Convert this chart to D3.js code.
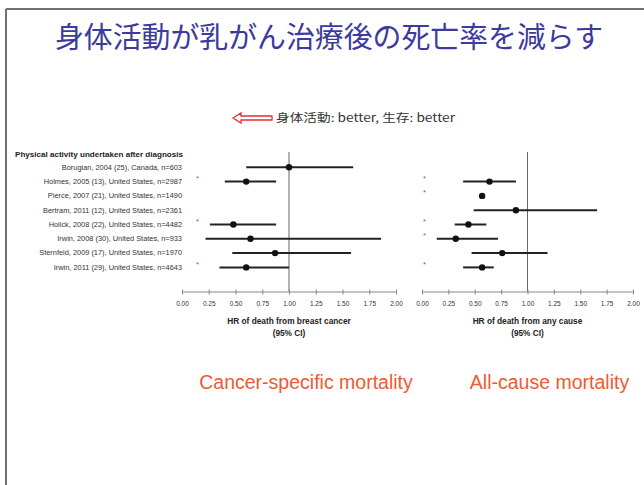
<!DOCTYPE html>
<html><head><meta charset="utf-8">
<script src="https://cdn.jsdelivr.net/npm/d3@7"></script>
<style>
html,body{margin:0;padding:0;background:#fff;}
svg{display:block;}
</style></head>
<body>
<svg id="c" width="644" height="485"></svg>
<script>
const studies = [
  "Borugian, 2004 (25), Canada, n=603",
  "Holmes, 2005 (13), United States, n=2987",
  "Pierce, 2007 (21), United States, n=1490",
  "Bertram, 2011 (12), United States, n=2361",
  "Holick, 2008 (22), United States, n=4482",
  "Irwin, 2008 (30), United States, n=933",
  "Sternfeld, 2009 (17), United States, n=1970",
  "Irwin, 2011 (29), United States, n=4643"
];
const csHR   = [1.00, 0.60, null, null, 0.48, 0.64, 0.87, 0.60];
const csLow  = [0.60, 0.40, null, null, 0.26, 0.22, 0.47, 0.35];
const csHigh = [1.60, 0.88, null, null, 0.88, 1.86, 1.58, 1.00];
const csSig  = [false, true, false, false, true, false, false, true];
const acHR   = [null, 0.64, 0.57, 0.89, 0.44, 0.32, 0.76, 0.57];
const acLow  = [null, 0.39, 0.55, 0.49, 0.31, 0.14, 0.47, 0.39];
const acHigh = [null, 0.89, 0.59, 1.66, 0.61, 0.72, 1.19, 0.68];
const acSig  = [false, true, true, false, true, true, false, true];
const tickValues = [0, 0.25, 0.5, 0.75, 1, 1.25, 1.5, 1.75, 2];
const tickLabels = ["0.00","0.25","0.50","0.75","1.00","1.25","1.50","1.75","2.00"];

const svg = d3.select("#c");
const jp = "'Noto Sans CJK JP', 'Noto Sans', sans-serif";
const sans = "'Liberation Sans', Arial, sans-serif";

// slide border
svg.append("line").attr("x1",6).attr("y1",9).attr("x2",644).attr("y2",9).attr("stroke","#707070").attr("stroke-width",2);
svg.append("line").attr("x1",6).attr("y1",9).attr("x2",6).attr("y2",485).attr("stroke","#707070").attr("stroke-width",2);

// title
svg.append("text").attr("x",329).attr("y",48).attr("text-anchor","middle")
  .attr("font-family",jp).attr("font-size",29).attr("fill","#3c3a9e")
  .attr("textLength",548).attr("lengthAdjust","spacingAndGlyphs")
  .text("身体活動が乳がん治療後の死亡率を減らす");

// arrow
const ag = svg.append("g");
ag.append("path")
  .attr("d","M233,118 L241,113 L241,116 L272,116 L272,120 L241,120 L241,123 Z")
  .attr("fill","#fff").attr("stroke","#e03030").attr("stroke-width",1.3);
ag.append("text").attr("x",276).attr("y",122).attr("font-family",jp).attr("font-size",11.5)
  .attr("textLength",179).attr("lengthAdjust","spacingAndGlyphs")
  .attr("fill","#333").text("身体活動: better, 生存: better");

// rows
const y = d3.scalePoint().domain(d3.range(studies.length)).range([167.3, 267.4]);
const xL = d3.scaleLinear().domain([0,2]).range([182,396]);
const xR = d3.scaleLinear().domain([0,2]).range([422,633]);

svg.append("text").attr("x",15).attr("y",157).attr("font-family",sans).attr("font-size",7.6)
  .attr("font-weight","bold").attr("fill","#222")
  .attr("textLength",168).attr("lengthAdjust","spacingAndGlyphs")
  .text("Physical activity undertaken after diagnosis");
svg.selectAll("text.lab").data(studies).join("text").attr("class","lab")
  .attr("x",182).attr("y",(d,i)=>y(i)+2.3).attr("text-anchor","end")
  .attr("font-family",sans).attr("font-size",7.4).attr("fill","#333").text(d=>d);

function panel(x, hr, lo, hi, sig, astX, title) {
  const g = svg.append("g");
  g.append("line").attr("x1",x(1)).attr("x2",x(1)).attr("y1",152).attr("y2",292)
    .attr("stroke","#666").attr("stroke-width",1);
  const ax = d3.axisBottom(x).tickValues(tickValues).tickFormat((d,i)=>tickLabels[i]).tickSize(3);
  const axg = g.append("g").attr("transform","translate(0,292)").call(ax);
  axg.select(".domain").attr("stroke","#888").attr("d",`M${x(0)},0H${x(2)}`);
  axg.selectAll(".tick line").attr("stroke","#888").attr("y1",-2.5).attr("y2",2.5);
  axg.selectAll(".tick text").attr("font-family",sans).attr("font-size",6.5).attr("fill","#333").attr("y",9);
  g.append("text").attr("x",x(1)).attr("y",324).attr("text-anchor","middle").attr("font-family",sans)
    .attr("font-size",8.3).attr("font-weight","bold").attr("fill","#222").text(title);
  g.append("text").attr("x",x(1)).attr("y",336).attr("text-anchor","middle").attr("font-family",sans)
    .attr("font-size",8.3).attr("font-weight","bold").attr("fill","#222").text("(95% CI)");
  const idx = d3.range(studies.length).filter(i=>hr[i]!==null);
  g.selectAll("line.ci").data(idx).join("line").attr("class","ci")
    .attr("x1",i=>x(lo[i])).attr("x2",i=>x(hi[i])).attr("y1",i=>y(i)).attr("y2",i=>y(i))
    .attr("stroke","#222").attr("stroke-width",2);
  g.selectAll("circle").data(idx).join("circle")
    .attr("cx",i=>x(hr[i])).attr("cy",i=>y(i)).attr("r",3.2).attr("fill","#111");
  g.selectAll("text.ast").data(d3.range(studies.length).filter(i=>sig[i])).join("text").attr("class","ast")
    .attr("x",astX).attr("y",i=>y(i)-0.5).attr("text-anchor","middle").attr("font-family",sans)
    .attr("font-size",8).attr("fill","#d04848").text("*");
}
panel(xL, csHR, csLow, csHigh, csSig, 197.5, "HR of death from breast cancer");
panel(xR, acHR, acLow, acHigh, acSig, 424.5, "HR of death from any cause");

svg.append("text").attr("x",306).attr("y",389).attr("text-anchor","middle").attr("font-family",sans)
  .attr("font-size",19.5).attr("fill","#f05a30").text("Cancer-specific mortality");
svg.append("text").attr("x",549.5).attr("y",389).attr("text-anchor","middle").attr("font-family",sans)
  .attr("font-size",19.5).attr("fill","#f05a30").text("All-cause mortality");
</script>
</body></html>
